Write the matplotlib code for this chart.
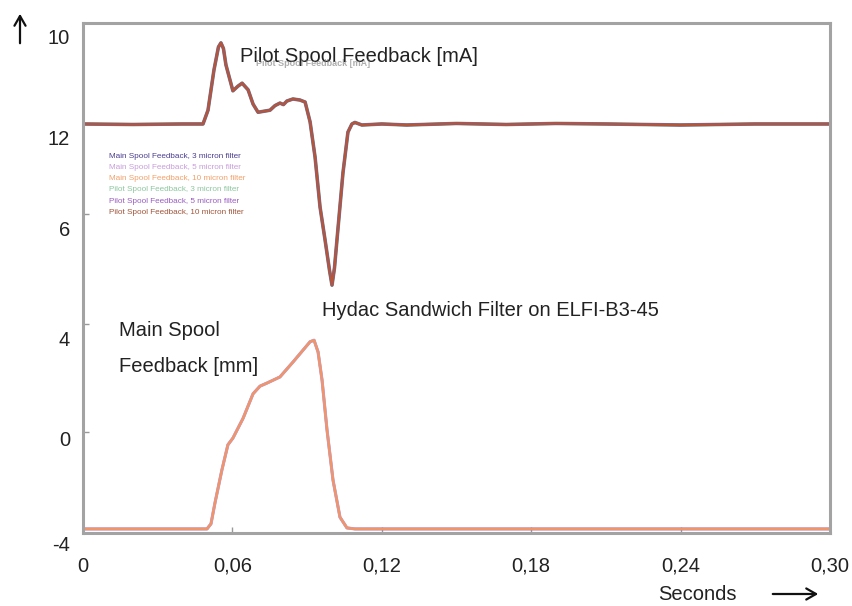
import matplotlib
matplotlib.use("Agg")
import matplotlib.pyplot as plt

# =========================
# DATOS
# =========================
# eje y en % del rango del gráfico (0 = abajo, 100 = arriba)
t_pilot = [0.0, 0.020, 0.040, 0.0482, 0.0502, 0.0526, 0.0544, 0.0554, 0.0564, 0.0574,
           0.0602, 0.0622, 0.0639, 0.0663, 0.0683, 0.0703, 0.0727, 0.0751, 0.0771,
           0.0791, 0.0805, 0.0819, 0.0843, 0.0871, 0.0892, 0.0912, 0.0932, 0.0952,
           0.0972, 0.0990, 0.1000, 0.1010, 0.1020, 0.1044, 0.1064, 0.1080, 0.1092,
           0.1120, 0.120, 0.130, 0.150, 0.170, 0.190, 0.210, 0.240, 0.270, 0.300]
v_pilot = [80.2, 80.1, 80.2, 80.2, 82.9, 90.8, 95.3, 96.1, 95.0, 91.8,
           86.7, 87.6, 88.2, 86.9, 84.1, 82.5, 82.7, 82.9, 83.8,
           84.3, 84.0, 84.7, 85.1, 84.9, 84.5, 80.6, 73.7, 63.9,
           57.5, 51.5, 48.6, 52.0, 57.5, 70.6, 78.6, 80.2, 80.5,
           80.0, 80.2, 80.0, 80.3, 80.1, 80.3, 80.2, 80.0, 80.2, 80.2]

t_main = [0.0, 0.0498, 0.0514, 0.0530, 0.0558, 0.0582, 0.0602, 0.0643, 0.0683,
          0.0711, 0.0739, 0.0791, 0.0843, 0.0912, 0.0928, 0.0944, 0.0960, 0.0980,
          0.1004, 0.1032, 0.1060, 0.1092, 0.300]
v_main = [0.8, 0.8, 1.8, 5.9, 12.4, 17.3, 18.6, 22.5, 27.3,
          28.8, 29.4, 30.6, 33.5, 37.5, 37.8, 35.5, 30.0, 20.2,
          10.4, 3.1, 1.0, 0.8, 0.8]

x_ticks = [0.0, 0.06, 0.12, 0.18, 0.24, 0.30]
x_labels = ["0", "0,06", "0,12", "0,18", "0,24", "0,30"]
y_label_pos = [96.9, 77.1, 59.4, 37.8, 18.2, -2.4]
y_labels = ["10", "12", "6", "4", "0", "-4"]
y_minor = [19.8, 41.0, 62.5]

leyenda = ["Main Spool Feedback, 3 micron filter",
           "Main Spool Feedback, 5 micron filter",
           "Main Spool Feedback, 10 micron filter",
           "Pilot Spool Feedback, 3 micron filter",
           "Pilot Spool Feedback, 5 micron filter",
           "Pilot Spool Feedback, 10 micron filter"]
colores_leyenda = ["#4b3d8f", "#c99ddb", "#f2a06a", "#8cc79e", "#9a5cc0", "#a0553a"]

# =========================
# FIGURA
# =========================
plt.rcParams["font.family"] = ["Liberation Sans", "DejaVu Sans"]
fig = plt.figure(figsize=(8.53, 6.06), dpi=100)
ax = fig.add_axes([83 / 853, 73 / 606, 747 / 853, 510 / 606])
ax.set_xlim(0, 0.3)
ax.set_ylim(0, 100)

# curvas: main (3 filtros) y pilot (3 filtros) casi superpuestas
ax.plot(t_main, v_main, color="#4b3d8f", lw=2.2, alpha=0.5)
ax.plot(t_main, v_main, color="#c99ddb", lw=2.0)
ax.plot(t_main, v_main, color="#f29466", lw=1.7)
ax.plot(t_pilot, v_pilot, color="#6f9a78", lw=2.6)
ax.plot(t_pilot, v_pilot, color="#8a4fb0", lw=2.1)
ax.plot(t_pilot, v_pilot, color="#b3563a", lw=1.7)

# ejes
for lado in ["left", "right", "top", "bottom"]:
    ax.spines[lado].set_color("#a3a3a3")
    ax.spines[lado].set_linewidth(2.2)
ax.set_xticks(x_ticks)
ax.set_xticklabels(x_labels, fontsize=14.5, color="#222222")
ax.tick_params(axis="x", direction="in", length=4, width=1, color="#999999", pad=17)
ax.get_xticklabels()[0].set_x(-0.003)
ax.set_yticks(y_minor)
ax.set_yticklabels([])
ax.tick_params(axis="y", direction="in", length=4, width=1, color="#999999")
for pos, lab in zip(y_label_pos, y_labels):
    ax.text(-13 / 747, pos, lab, transform=ax.get_yaxis_transform(),
            ha="right", va="center", fontsize=14.5, color="#222222", clip_on=False)

# textos
fig.text(240 / 853, 1 - 56 / 606, "Pilot Spool Feedback [mA]", fontsize=14.5,
         color="#222222", va="center")
fig.text(256 / 853, 1 - 64 / 606, "Pilot Spool Feedback [mA]", fontsize=6.5,
         color="#777777", alpha=0.6, fontweight="bold", va="center")
fig.text(322 / 853, 1 - 310 / 606, "Hydac Sandwich Filter on ELFI-B3-45", fontsize=14.5,
         color="#222222", va="center")
fig.text(119 / 853, 1 - 331 / 606, "Main Spool", fontsize=14.5, color="#222222", va="center")
fig.text(119 / 853, 1 - 366 / 606, "Feedback [mm]", fontsize=14.5, color="#222222", va="center")
fig.text(658 / 853, 1 - 594 / 606, "Seconds", fontsize=14.5, color="#222222", va="center")

# leyenda (solo texto de colores)
for i, (txt, col) in enumerate(zip(leyenda, colores_leyenda)):
    fig.text(109 / 853, 1 - (156 + 11.3 * i) / 606, txt, fontsize=5.9, color=col,
             va="center")

# flechas
fig.add_artist(matplotlib.patches.FancyArrowPatch(
    (20 / 853, 1 - 46 / 606), (20 / 853, 1 - 11 / 606), transform=fig.transFigure,
    arrowstyle="->,head_length=7,head_width=4", lw=1.6, color="#111111",
    mutation_scale=1))
fig.add_artist(matplotlib.patches.FancyArrowPatch(
    (770 / 853, 1 - 594 / 606), (821 / 853, 1 - 594 / 606), transform=fig.transFigure,
    arrowstyle="->,head_length=7,head_width=4", lw=1.6, color="#111111",
    mutation_scale=1))

fig.savefig("out.png", dpi=100)
